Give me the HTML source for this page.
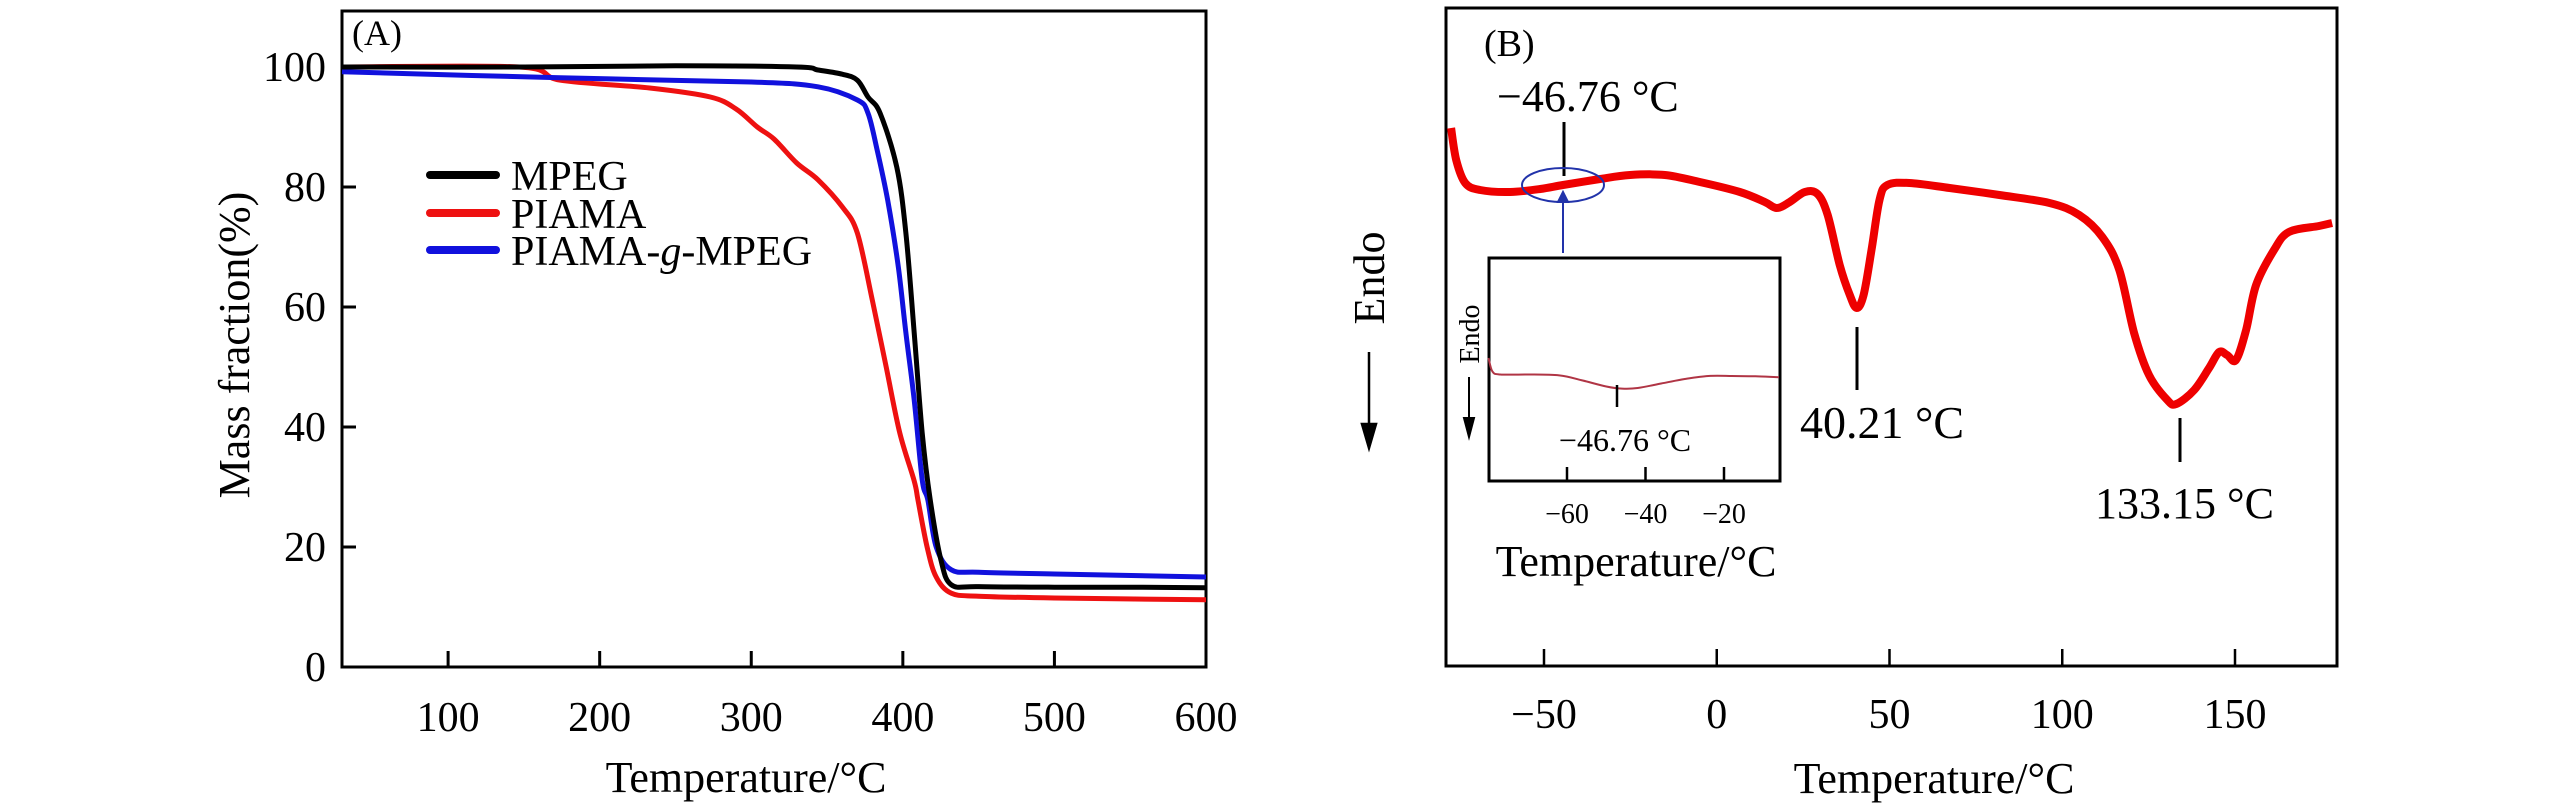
<!DOCTYPE html>
<html><head><meta charset="utf-8"><style>
html,body{margin:0;padding:0;background:#fff;}
svg{display:block;font-family:"Liberation Serif",serif;}
</style></head><body>
<svg id="chart" width="2567" height="806" viewBox="0 0 2567 806" xmlns="http://www.w3.org/2000/svg">
<g id="pa"></g>
<g id="pb"></g>
</svg>
<script>
// ---- Panel A data (TGA) ----
const aXTicks = [100, 200, 300, 400, 500, 600];
const aYTicks = [0, 20, 40, 60, 80, 100];
const mpegT = [30, 150, 250, 330, 344, 360, 370, 377, 385, 396, 402, 407.5, 412.8, 418, 425, 432, 450, 500, 550, 600];
const mpegM = [100, 100, 100.2, 100, 99.5, 98.8, 97.8, 95, 92.3, 83.3, 72.3, 55.7, 39, 28, 18, 13.7, 13.4, 13.3, 13.3, 13.2];
const piamaT = [30, 147, 174, 233, 273, 290, 304, 315, 330, 344, 360, 370, 380, 389, 398, 407.5, 410, 416, 422, 432, 450, 500, 600];
const piamaM = [100, 100, 97.8, 96.5, 95, 93, 90, 88, 84, 81.2, 76.7, 72.3, 61, 50, 39, 31, 27.8, 20, 15, 12.3, 11.8, 11.5, 11.2];
const blueT = [30, 174, 300, 344, 370, 377, 383, 390, 397, 402, 407.5, 412.8, 416.5, 422, 432, 450, 500, 600];
const blueM = [99.2, 98.2, 97.5, 96.7, 94.5, 92.3, 86.2, 77.8, 66.7, 55.7, 44.5, 31.2, 27.8, 20, 16.2, 15.8, 15.5, 15];
const legendNames = ["MPEG", "PIAMA", "PIAMA-g-MPEG"];
const legendColors = ["#000000", "#ee1111", "#1111dd"];

// ---- Panel B data (DSC) ----
const bXTicks = [-50, 0, 50, 100, 150];
const dscT = [-76.9, -75.4, -72.8, -68.5, -59.8, -51.1, -44.5, -33.8, -25.1, -15.0, -4.9, 6.7, 13.9, 17.4, 21.1, 25.5, 29.2, 32.1, 35.6, 38.5, 40.5, 42.5, 44.8, 47.1, 49.4, 55.8, 67.4, 81.8, 96.3, 104.9, 111.6, 116.5, 120.8, 125.1, 130.4, 133.0, 138.2, 142.5, 145.4, 147.7, 150.3, 153.2, 156.1, 161.3, 165.6, 174.3, 178.1];
const dscH = [53.8, 50.6, 48.3, 47.6, 47.4, 47.7, 48.1, 48.7, 49.1, 49.1, 48.4, 47.4, 46.4, 45.8, 46.4, 47.4, 47.2, 45.1, 40.1, 37.1, 35.8, 37.1, 41.6, 46.6, 48.1, 48.3, 47.8, 47.1, 46.3, 45.1, 42.9, 39.6, 33.3, 29.1, 26.6, 26.2, 27.6, 29.8, 31.4, 31.1, 30.6, 33.6, 38.1, 41.6, 43.4, 44.0, 44.3];
const insetTicks = [-60, -40, -20];
const insetT = [-80, -79, -77, -70, -62, -56, -50, -46, -42, -36, -30, -24, -18, -12, -6];
const insetH = [14, 9.5, 8.5, 8.5, 8.2, 6.5, 4.5, 3.8, 4.0, 5.5, 7.0, 8.0, 8.0, 7.9, 7.6];

const NS = "http://www.w3.org/2000/svg";
function mk(parent, tag, attrs, text) {
  const e = document.createElementNS(NS, tag);
  for (const k in attrs) e.setAttribute(k, attrs[k]);
  if (text !== undefined) e.textContent = text;
  parent.appendChild(e);
  return e;
}
function pathFrom(xs, ys, fx, fy) {
  const p = xs.map((v, i) => [fx(v), fy(ys[i])]);
  let d = "M" + p[0][0].toFixed(1) + "," + p[0][1].toFixed(1);
  for (let i = 0; i < p.length - 1; i++) {
    const p0 = p[Math.max(0, i - 1)], p1 = p[i], p2 = p[i + 1], p3 = p[Math.min(p.length - 1, i + 2)];
    const c1x = p1[0] + (p2[0] - p0[0]) / 6, c1y = p1[1] + (p2[1] - p0[1]) / 6;
    const c2x = p2[0] - (p3[0] - p1[0]) / 6, c2y = p2[1] - (p3[1] - p1[1]) / 6;
    d += " C" + c1x.toFixed(1) + "," + c1y.toFixed(1) + " " + c2x.toFixed(1) + "," + c2y.toFixed(1) + " " + p2[0].toFixed(1) + "," + p2[1].toFixed(1);
  }
  return d;
}

// ===== Panel A =====
const pa = document.getElementById("pa");
const aL = 342, aR = 1206, aT = 11, aB = 667;
const ax = v => aL + (v - 30) / (600 - 30) * (aR - aL);
const ay = v => aB - v * 6.0;

let e;
e = mk(pa, "rect", {x: aL, y: aT, width: aR - aL, height: aB - aT, fill: "none", stroke: "#000", "stroke-width": 3});



aXTicks.forEach(t => {
  let tk = mk(pa, "line", {x1: ax(t), x2: ax(t), y1: aB, y2: aB - 16, stroke: "#000", "stroke-width": 3});
  
  
  let lb = mk(pa, "text", {x: ax(t), y: 731, "font-size": 42, "text-anchor": "middle"}, String(t));
  
  
});
aYTicks.forEach(t => {
  let tk = mk(pa, "line", {x1: aL, x2: aL + 14, y1: ay(t), y2: ay(t), stroke: "#000", "stroke-width": 3});
  
  
  let lb = mk(pa, "text", {x: 326, y: ay(t) + 14, "font-size": 42, "text-anchor": "end"}, String(t));
  
  
});
e = mk(pa, "text", {x: 746, y: 792, "font-size": 44, "text-anchor": "middle"}, "Temperature/°C");


e = mk(pa, "text", {x: 0, y: 0, "font-size": 44, "text-anchor": "middle", transform: "translate(249,345) rotate(-90)"}, "Mass fraction(%)");


e = mk(pa, "text", {x: 352, y: 45, "font-size": 36}, "(A)");



const seriesA = [[mpegT, mpegM, legendColors[0], 'series-mpeg'], [piamaT, piamaM, legendColors[1], 'series-piama'], [blueT, blueM, legendColors[2], 'series-piama-g-mpeg']];
[seriesA[1], seriesA[2], seriesA[0]].forEach(s => {
  let p = mk(pa, "path", {d: pathFrom(s[0], s[1], ax, ay), fill: "none", stroke: s[2], "stroke-width": 5, "stroke-linejoin": "round"});
  
  
});

const legY = [175, 213, 250];
legendNames.forEach((n, i) => {
  let g = mk(pa, "g", {});
  
  
  mk(g, "line", {x1: 430, x2: 496, y1: legY[i], y2: legY[i], stroke: legendColors[i], "stroke-width": 8, "stroke-linecap": "round"});
  const t = mk(g, "text", {x: 511, y: legY[i] + 15, "font-size": 42});
  if (n === "PIAMA-g-MPEG") {
    mk(t, "tspan", {}, "PIAMA-");
    mk(t, "tspan", {"font-style": "italic"}, "g");
    mk(t, "tspan", {}, "-MPEG");
  } else t.textContent = n;
});

// ===== Panel B =====
const pb = document.getElementById("pb");
const bL = 1446, bR = 2337, bT = 8, bB = 666;
const bx = v => 1544 + (v + 50) / 200 * (2235 - 1544);
const by = v => bB - v * 10;

e = mk(pb, "rect", {x: bL, y: bT, width: bR - bL, height: bB - bT, fill: "none", stroke: "#000", "stroke-width": 3});


bXTicks.forEach(t => {
  let tk = mk(pb, "line", {x1: bx(t), x2: bx(t), y1: bB, y2: bB - 17, stroke: "#000", "stroke-width": 2.5});
  
  
  let lb = mk(pb, "text", {x: bx(t), y: 728, "font-size": 42, "text-anchor": "middle"}, (t < 0 ? "\u2212" + Math.abs(t) : String(t)));
  
  
});
e = mk(pb, "text", {x: 1934, y: 793, "font-size": 44, "text-anchor": "middle"}, "Temperature/°C");


e = mk(pb, "text", {x: 0, y: 0, "font-size": 44, "text-anchor": "middle", transform: "translate(1384,278) rotate(-90)"}, "Endo");


e = mk(pb, "path", {d: "M1369,352 L1369,440 M1362,424 L1369,448 L1376,424 Z", stroke: "#000", "stroke-width": 2.5, fill: "#000"});


e = mk(pb, "text", {x: 1484, y: 56, "font-size": 38}, "(B)");



e = mk(pb, "path", {d: pathFrom(dscT, dscH, bx, by), fill: "none", stroke: "#ee0000", "stroke-width": 8, "stroke-linejoin": "round"});



// annotations
e = mk(pb, "text", {x: 1497, y: 111, "font-size": 44}, "\u221246.76 °C");


e = mk(pb, "line", {x1: 1564, x2: 1564, y1: 122, y2: 176, stroke: "#000", "stroke-width": 3});


e = mk(pb, "ellipse", {cx: 1563, cy: 185, rx: 41, ry: 17, fill: "none", stroke: "#2233aa", "stroke-width": 2});


e = mk(pb, "path", {d: "M1563,253 L1563,200 M1558,202 L1563,192 L1568,202 Z", stroke: "#2233aa", "stroke-width": 2, fill: "#2233aa"});


e = mk(pb, "line", {x1: 1857, x2: 1857, y1: 327, y2: 390, stroke: "#000", "stroke-width": 3});


e = mk(pb, "text", {x: 1800, y: 438, "font-size": 46}, "40.21 °C");


e = mk(pb, "line", {x1: 2180, x2: 2180, y1: 418, y2: 462, stroke: "#000", "stroke-width": 3});


e = mk(pb, "text", {x: 2095, y: 518, "font-size": 44}, "133.15 °C");



// inset
const iL = 1489, iR = 1780, iT = 258, iB = 481;
const ix = v => 1567 + (v + 60) / 40 * (1724 - 1567);
const iy = v => 400 - v * 3.0;
const inset = mk(pb, "g", {});


mk(inset, "rect", {x: iL, y: iT, width: iR - iL, height: iB - iT, fill: "#fff", stroke: "#000", "stroke-width": 3});
insetTicks.forEach(t => {
  let tk = mk(inset, "line", {x1: ix(t), x2: ix(t), y1: iB, y2: iB - 14, stroke: "#000", "stroke-width": 2.5});
  
  
  let lb = mk(inset, "text", {x: ix(t), y: 523, "font-size": 28, "text-anchor": "middle"}, "\u2212" + Math.abs(t));
  
  
});
e = mk(inset, "path", {d: pathFrom(insetT, insetH, ix, iy), fill: "none", stroke: "#b03545", "stroke-width": 2});


e = mk(inset, "line", {x1: 1617, x2: 1617, y1: 385, y2: 407, stroke: "#000", "stroke-width": 2.5});


e = mk(inset, "text", {x: 1625, y: 451, "font-size": 32, "text-anchor": "middle"}, "\u221246.76 °C");


e = mk(inset, "text", {x: 0, y: 0, "font-size": 28, "text-anchor": "middle", transform: "translate(1479,334) rotate(-90)"}, "Endo");


e = mk(inset, "path", {d: "M1469,377 L1469,430 M1464,418 L1469,437 L1474,418 Z", stroke: "#000", "stroke-width": 2, fill: "#000"});


e = mk(inset, "text", {x: 1636, y: 576, "font-size": 44, "text-anchor": "middle"}, "Temperature/°C");


</script>
</body></html>
